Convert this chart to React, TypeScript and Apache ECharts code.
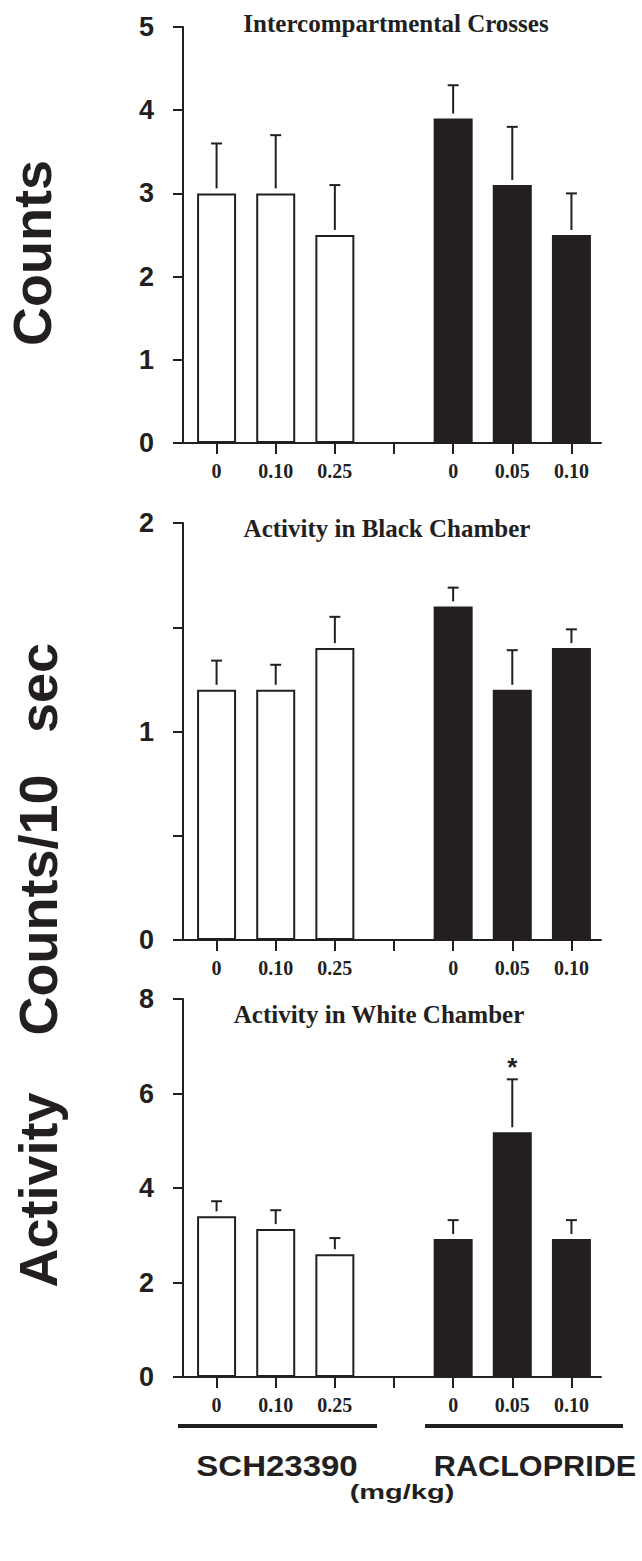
import React, { useEffect, useRef } from "react";
import * as echarts from "echarts";

// ---------- data ----------
const categories = ["0", "0.10", "0.25", "", "0", "0.05", "0.10"];
const drugOfCategory = ["SCH23390", "SCH23390", "SCH23390", "", "RACLOPRIDE", "RACLOPRIDE", "RACLOPRIDE"];

const crossesMean = [3.0, 3.0, 2.5, null, 3.9, 3.1, 2.5];
const crossesUpper = [3.6, 3.7, 3.1, null, 4.3, 3.8, 3.0];
const crossesSig = ["", "", "", "", "", "", ""];

const blackMean = [1.2, 1.2, 1.4, null, 1.6, 1.2, 1.4];
const blackUpper = [1.34, 1.32, 1.55, null, 1.69, 1.39, 1.49];
const blackSig = ["", "", "", "", "", "", ""];

const whiteMean = [3.4, 3.13, 2.6, null, 2.92, 5.18, 2.92];
const whiteUpper = [3.72, 3.53, 2.94, null, 3.32, 6.3, 3.32];
const whiteSig = ["", "", "", "", "", "*", ""];

const panelTitles = ["Intercompartmental Crosses", "Activity in Black Chamber", "Activity in White Chamber"];
const yMax = [5, 2, 8];
const yInterval = [1, 0.5, 2];
const groupLabels = ["SCH23390", "RACLOPRIDE"];
const unitLabel = "(mg/kg)";
const yTitleTop = "Counts";
const yTitleBottom = ["sec", "Counts/10", "Activity"];

const INK = "#231f20";

export default function App() {
  const ref = useRef<HTMLDivElement>(null);

  useEffect(() => {
    document.body.style.margin = "0";
    const chart = echarts.init(ref.current!, null, { renderer: "svg" });

    const means = [crossesMean, blackMean, whiteMean];
    const uppers = [crossesUpper, blackUpper, whiteUpper];
    const sigs = [crossesSig, blackSig, whiteSig];

    const grids = [
      { left: 187, top: 27, width: 414, height: 416 },
      { left: 187, top: 523, width: 414, height: 417 },
      { left: 187, top: 999, width: 414, height: 378 },
    ];
    const titleY = [23.5, 528.5, 1014.5];
    const titleX = [396, 387, 379];

    const xAxes = grids.map((_, i) => ({
      gridIndex: i,
      type: "category",
      data: categories,
      axisLine: { show: true, lineStyle: { color: INK, width: 2 } },
      axisTick: { show: true, alignWithLabel: true, interval: 0, length: 11, lineStyle: { color: INK, width: 2 } },
      axisLabel: {
        interval: 0,
        margin: 18,
        color: INK,
        fontFamily: "Liberation Serif",
        fontWeight: "bold",
        fontSize: 20,
      },
      splitLine: { show: false },
    }));

    const yAxes = grids.map((_, i) => ({
      gridIndex: i,
      type: "value",
      min: 0,
      max: yMax[i],
      interval: yInterval[i],
      offset: 4,
      axisLine: { show: true, lineStyle: { color: INK, width: 2 } },
      axisTick: { show: true, length: 10, lineStyle: { color: INK, width: 2 } },
      splitLine: { show: false },
      axisLabel: {
        margin: 29,
        color: INK,
        fontFamily: "Liberation Sans",
        fontWeight: "bold",
        fontSize: 27,
        formatter: (v: number) => (Number.isInteger(v) ? String(v) : ""),
      },
    }));

    const series: any[] = [];
    for (let p = 0; p < 3; p++) {
      const m = means[p];
      const u = uppers[p];
      const s = sigs[p];
      series.push({
        type: "bar",
        xAxisIndex: p,
        yAxisIndex: p,
        barWidth: 39,
        silent: true,
        data: m.map((v, i) =>
          v === null
            ? "-"
            : {
                value: v,
                itemStyle: {
                  color: drugOfCategory[i] === "SCH23390" ? "#ffffff" : INK,
                  borderColor: INK,
                  borderWidth: 2,
                },
              }
        ),
      });
      const errData: number[][] = [];
      m.forEach((v, i) => {
        if (v !== null && u[i] !== null) errData.push([i, v, u[i] as number]);
      });
      series.push({
        type: "custom",
        xAxisIndex: p,
        yAxisIndex: p,
        silent: true,
        z: 3,
        data: errData,
        renderItem: (params: any, api: any) => {
          const idx = api.value(0);
          const base = api.coord([idx, api.value(1)]);
          const top = api.coord([idx, api.value(2)]);
          const x = base[0];
          const children: any[] = [
            {
              type: "line",
              shape: { x1: x, y1: base[1] - 5, x2: x, y2: top[1] },
              style: { stroke: INK, lineWidth: 2 },
            },
            {
              type: "line",
              shape: { x1: x - 5.5, y1: top[1], x2: x + 5.5, y2: top[1] },
              style: { stroke: INK, lineWidth: 2 },
            },
          ];
          if (s[idx]) {
            children.push({
              type: "text",
              style: {
                text: s[idx],
                x: x,
                y: top[1] - 12,
                textAlign: "center",
                textVerticalAlign: "middle",
                font: 'bold 26px "Liberation Sans"',
                fill: INK,
              },
            });
          }
          return { type: "group", children };
        },
      });
    }

    const graphic: any[] = [];
    // close the tiny gap between offset y-axis and x-axis line
    grids.forEach((g) => {
      graphic.push({
        type: "line",
        shape: { x1: 182, y1: g.top + g.height, x2: g.left + 1, y2: g.top + g.height },
        style: { stroke: INK, lineWidth: 2 },
      });
    });
    panelTitles.forEach((t, i) => {
      graphic.push({
        type: "text",
        x: titleX[i],
        y: titleY[i],
        style: {
          text: t,
          textAlign: "center",
          textVerticalAlign: "middle",
          font: 'bold 25px "Liberation Serif"',
          fill: INK,
        },
      });
    });
    // y titles (rotated)
    const rotText = (text: string, x: number, y: number) => ({
      type: "text",
      x,
      y,
      rotation: Math.PI / 2,
      style: {
        text,
        textAlign: "center",
        textVerticalAlign: "middle",
        font: 'bold 54px "Liberation Sans"',
        fill: INK,
      },
    });
    graphic.push(rotText(yTitleTop, 32, 253));
    graphic.push(rotText(yTitleBottom[0], 38, 688));
    graphic.push(rotText(yTitleBottom[1], 38, 905));
    graphic.push(rotText(yTitleBottom[2], 38, 1190));

    // group bars and labels
    graphic.push({
      type: "line",
      shape: { x1: 178, y1: 1426, x2: 377, y2: 1426 },
      style: { stroke: INK, lineWidth: 4 },
    });
    graphic.push({
      type: "line",
      shape: { x1: 425, y1: 1426, x2: 623, y2: 1426 },
      style: { stroke: INK, lineWidth: 4 },
    });
    graphic.push({
      type: "text",
      x: 277,
      y: 1466,
      scaleX: 1.1,
      style: {
        text: groupLabels[0],
        textAlign: "center",
        textVerticalAlign: "middle",
        font: 'bold 30px "Liberation Sans"',
        fill: INK,
      },
    });
    graphic.push({
      type: "text",
      x: 535,
      y: 1466,
      scaleX: 1.02,
      style: {
        text: groupLabels[1],
        textAlign: "center",
        textVerticalAlign: "middle",
        font: 'bold 30px "Liberation Sans"',
        fill: INK,
      },
    });
    graphic.push({
      type: "text",
      x: 402,
      y: 1492,
      scaleX: 1.45,
      style: {
        text: unitLabel,
        textAlign: "center",
        textVerticalAlign: "middle",
        font: 'bold 20px "Liberation Sans"',
        fill: INK,
      },
    });

    chart.setOption({
      animation: false,
      backgroundColor: "#ffffff",
      grid: grids,
      xAxis: xAxes,
      yAxis: yAxes,
      series,
      graphic,
    });

    return () => chart.dispose();
  }, []);

  return <div ref={ref} style={{ width: 642, height: 1561 }} />;
}
